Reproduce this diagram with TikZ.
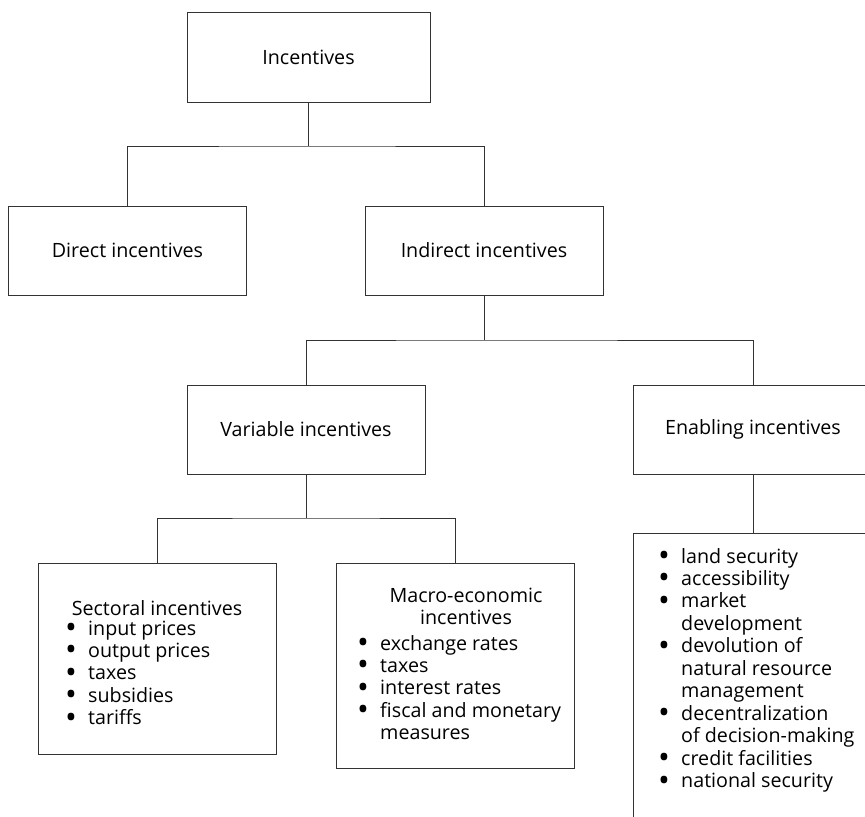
\documentclass[tikz,border=0pt]{standalone}
\usepackage{fontspec}
\usepackage{graphicx}
\setmainfont{Open Sans}
\newcommand{\itm}{\makebox[6.9mm][l]{\smash{\raisebox{-0.17em}{\scalebox{1.6}{\textbullet}}}}}

\begin{document}
\begin{tikzpicture}[x=0.3mm,y=-0.3mm,
  box/.style={draw=black!80,line width=0.8pt,minimum width=71.4mm,minimum height=26.7mm,inner sep=0pt,font=\fontsize{16.8}{19.2}\selectfont},
  link/.style={draw=black!80,line width=0.8pt},
  txt/.style={inner sep=0pt,font=\fontsize{16.8}{19.2}\selectfont}]
\useasboundingbox (0,0) rectangle (865,817);
\clip (0,0) rectangle (865,817);
\node[box,minimum width=72.9mm,minimum height=27mm] (inc) at (308.5,57){Incentives};
\node[box] (direct) at (127.5,250.5){Direct incentives};
\node[box] (indirect) at (484,250.5){Indirect incentives};
\node[box] (variable) at (306,429.5){Variable incentives};
\node[box,minimum width=72mm] (enabling) at (753,429.5){Enabling incentives};
\node[box,minimum height=57.3mm] (sectoral) at (157,658.5){};
\node[box,minimum height=61.5mm] (macro) at (455,665.5){};
\node[box,minimum width=72mm,minimum height=89.1mm] (enablist) at (753,681.5){};
\node[txt] (secthead) at (157,608){Sectoral incentives};
\node[txt,anchor=base west] (sectitems) at (65,635){\begin{tabular}[t]{@{}l@{}}\itm input prices\\ \itm output prices\\ \itm taxes\\ \itm subsidies\\ \itm tariffs\end{tabular}};
\node[txt,align=center] (macrohead) at (466,606.5){Macro-economic\\incentives};
\node[txt,anchor=base west] (macroitems) at (357,650){\begin{tabular}[t]{@{}l@{}}\itm exchange rates\\ \itm taxes\\ \itm interest rates\\ \itm fiscal and monetary\\ \hspace*{6.9mm}measures\end{tabular}};
\node[txt,anchor=base west] (enabitems) at (658,563){\begin{tabular}[t]{@{}l@{}}\itm land security\\ \itm accessibility\\ \itm market\\ \hspace*{6.9mm}development\\ \itm devolution of\\ \hspace*{6.9mm}natural resource\\ \hspace*{6.9mm}management\\ \itm decentralization\\ \hspace*{6.9mm}of decision-making\\ \itm credit facilities\\ \itm national security\end{tabular}};
\coordinate (j1) at (308.5,146);
\draw[link] (inc.south)--(j1);\draw[link] (direct.north) |- (j1) -| (indirect.north);
\coordinate (j2) at (484,340);
\draw[link] (indirect.south)--(j2);\draw[link] (variable.north) |- (j2) -| (enabling.north);
\coordinate (j3) at (306,518);
\draw[link] (variable.south)--(j3);\draw[link] (sectoral.north) |- (j3) -| (macro.north);
\draw[link] (enabling.south)--(enablist.north);
\end{tikzpicture}
\end{document}
